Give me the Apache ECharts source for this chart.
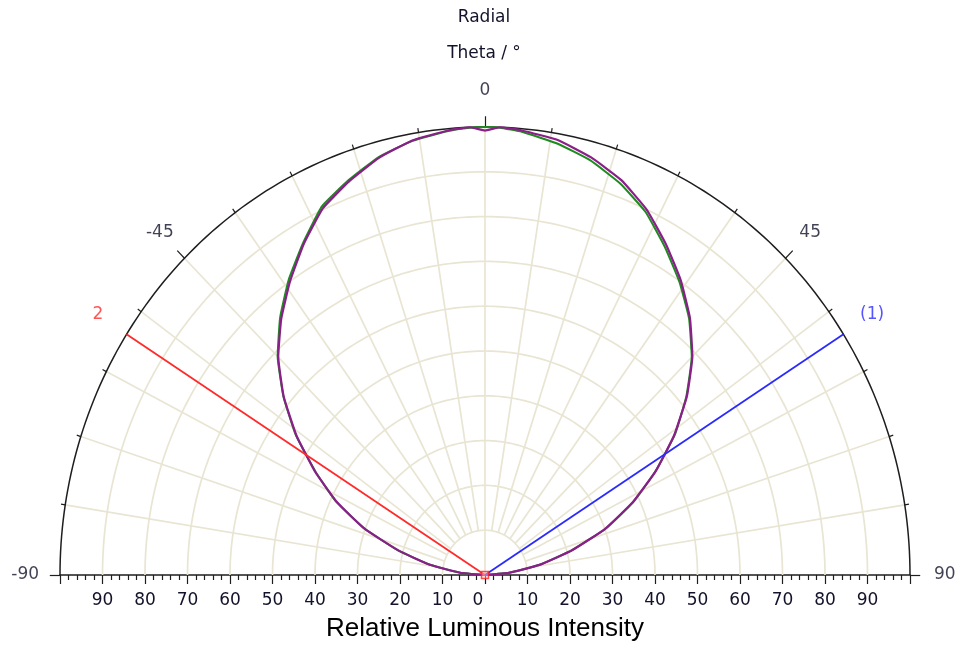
<!DOCTYPE html>
<html>
<head>
<meta charset="utf-8">
<title>Relative Luminous Intensity</title>
<script src="https://cdn.jsdelivr.net/npm/echarts@6/dist/echarts.min.js"></script>
<style>
  html, body { margin: 0; padding: 0; background: #ffffff; }
  #chart { width: 959px; height: 647px; }
</style>
</head>
<body>
<div id="chart"></div>
<script>
// Emission angle (degrees, 0 = straight up) and relative intensity (%) for two measurements
const thetaDeg = [-90, -85, -80, -75, -70, -65, -60, -55, -50, -45, -40, -35, -30, -25, -20, -15, -10, -5, -2,
                  0, 2, 5, 10, 15, 20, 25, 30, 35, 40, 45, 50, 55, 60, 65, 70, 75, 80, 85, 90];
const intensityPurple = [0, 5.8, 13.2, 21.0, 30.2, 38.4, 46.2, 54.1, 61.8, 68.8, 74.6, 80.0, 85.3, 90.3, 93.5, 96.4, 98.5, 99.6, 100,
                         99.2, 100, 99.6, 98.6, 96.5, 93.8, 90.0, 85.2, 80.3, 75.0, 69.0, 62.0, 54.3, 46.4, 38.3, 30.0, 21.1, 13.0, 5.6, 0];
const intensityGreen = [0, 5.9, 13.1, 21.2, 30.0, 38.6, 46.0, 54.3, 61.9, 69.0, 75.0, 80.5, 85.6, 90.8, 93.8, 96.6, 98.4, 99.5, 99.9,
                        100, 99.9, 99.3, 97.8, 95.8, 93.0, 89.4, 84.6, 79.8, 74.7, 68.8, 61.8, 54.5, 46.3, 38.5, 30.2, 21.0, 13.1, 5.7, 0];

// Half-intensity beam markers
const beamAngles = [-57.5, 57.5];
const beamNames = ['2', '(1)'];
const beamColors = ['#ff2a2a', '#2a2aff'];

// Axis settings
const radialMax = 100;
const ringValues = [10, 20, 30, 40, 50, 60, 70, 80, 90];
const angleTickStep = 9;
const angleLabels = [-90, -45, 0, 45, 90];

const TEXT_COLOR = '#12122a';
const GRID_COLOR = '#e9e5d3';
const FONT = '"DejaVu Sans", Verdana, sans-serif';

// Polar (degrees from vertical, radius) -> cartesian value pair
function pt(deg, r) {
  const t = deg * Math.PI / 180;
  return [r * Math.sin(t), r * Math.cos(t)];
}
function arc(r) {
  const pts = [];
  for (let a = -90; a <= 90; a += 1) pts.push(pt(a, r));
  return pts;
}

// Grid: rings and spokes
const gridLines = [];
ringValues.forEach(r => gridLines.push({ coords: arc(r) }));
for (let a = -90 + angleTickStep; a < 90; a += angleTickStep) {
  const inner = a === 0 ? 0 : 10;
  gridLines.push({ coords: [pt(a, inner), pt(a, radialMax)] });
}

// Angular ticks on the outer arc
const angleTicks = [];
for (let a = -90; a <= 90; a += angleTickStep) {
  const major = a % 45 === 0;
  angleTicks.push({ coords: [pt(a, radialMax), pt(a, radialMax + (major ? 2.4 : 1.0))] });
}

const curve = vals => thetaDeg.map((t, i) => pt(t, vals[i]));

const chart = echarts.init(document.getElementById('chart'), null, { renderer: 'canvas' });

const series = [
  {
    type: 'lines', coordinateSystem: 'cartesian2d', polyline: true, silent: true, clip: false,
    data: gridLines, lineStyle: { color: GRID_COLOR, width: 1.7, opacity: 1 }, z: 1
  },
  {
    type: 'lines', coordinateSystem: 'cartesian2d', polyline: true, silent: true, clip: false,
    data: [{ coords: arc(radialMax) }], lineStyle: { color: '#1e1e1e', width: 1.5, opacity: 1 }, z: 3
  },
  {
    type: 'lines', coordinateSystem: 'cartesian2d', polyline: false, silent: true, clip: false,
    data: angleTicks, lineStyle: { color: '#1e1e1e', width: 1.2, opacity: 1 }, z: 3
  },
  {
    name: 'green', type: 'line', data: curve(intensityGreen), showSymbol: false, clip: false, smooth: 0.12,
    lineStyle: { color: '#1f8a1f', width: 2 }, z: 4
  },
  {
    name: 'purple', type: 'line', data: curve(intensityPurple), showSymbol: false, clip: false, smooth: 0.12,
    lineStyle: { color: '#8a1f8a', width: 2.2 }, z: 5
  }
];

beamAngles.forEach((a, i) => {
  series.push({
    type: 'line', data: [[0, 0], pt(a, radialMax)], showSymbol: false, clip: false,
    lineStyle: { color: beamColors[i], width: 1.8 }, z: 6
  });
  series.push({
    type: 'scatter', data: [{ value: pt(a, 108), name: beamNames[i] }], symbolSize: 0, clip: false, silent: true,
    label: { show: true, position: 'inside', formatter: '{b}', color: beamColors[i], fontSize: 17, fontFamily: FONT }
  });
});

series.push({
  type: 'scatter', data: [[0, 0]], symbol: 'rect', symbolSize: 7, clip: false, silent: true,
  itemStyle: { color: 'rgba(255,200,200,0.6)', borderColor: '#ff2020', borderWidth: 1.5 }, z: 7
});

series.push({
  type: 'scatter', symbolSize: 0, clip: false, silent: true,
  data: angleLabels.map(a => ({ value: pt(a, 108.2), name: String(a) })),
  label: { show: true, position: 'inside', formatter: '{b}', color: TEXT_COLOR, fontSize: 17, fontFamily: FONT }
});

chart.setOption({
  animation: false,
  backgroundColor: '#ffffff',
  grid: { left: 60, right: 49, top: 127, bottom: 72, containLabel: false },
  xAxis: {
    type: 'value', min: -radialMax, max: radialMax, interval: 10,
    name: 'Relative Luminous Intensity', nameLocation: 'middle', nameGap: 41,
    nameTextStyle: { color: '#000000', fontSize: 26, fontFamily: '"Liberation Sans", Arial, sans-serif' },
    axisLine: { show: true, lineStyle: { color: '#1e1e1e', width: 1.5 } },
    axisTick: { show: true, length: 9, lineStyle: { color: '#1e1e1e', width: 1.2 } },
    minorTick: { show: true, splitNumber: 5, length: 5, lineStyle: { color: '#1e1e1e', width: 1.2 } },
    splitLine: { show: false },
    axisLabel: {
      margin: 17, color: TEXT_COLOR, fontSize: 17, fontFamily: FONT,
      formatter: v => (Math.abs(v) === radialMax ? '' : (v === 0 ? '{z|0}' : String(Math.abs(v)))),
      rich: { z: { padding: [0, 14, 0, 0], color: TEXT_COLOR, fontSize: 17, fontFamily: FONT } }
    }
  },
  yAxis: {
    type: 'value', min: 0, max: radialMax, show: false
  },
  graphic: [
    { type: 'text', x: 484, y: 18, style: { text: 'Radial', fill: TEXT_COLOR, font: '17px ' + FONT, align: 'center', verticalAlign: 'middle' } },
    { type: 'text', x: 484, y: 54, style: { text: 'Theta / °', fill: TEXT_COLOR, font: '17px ' + FONT, align: 'center', verticalAlign: 'middle' } }
  ],
  series: series
});
</script>
</body>
</html>
